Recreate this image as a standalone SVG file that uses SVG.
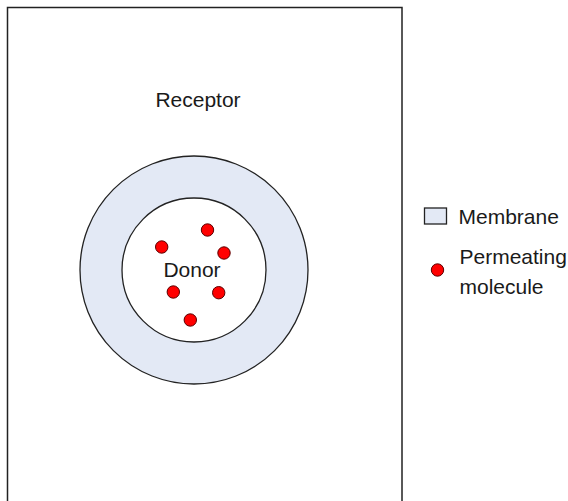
<svg xmlns="http://www.w3.org/2000/svg" width="568" height="501" viewBox="0 0 568 501">
<style>
text{font-family:"Liberation Sans",Arial,sans-serif;font-size:21px;fill:#1a1a1a}
.ring{fill:#e3e9f5;stroke:#222;stroke-width:1.3}
.inner{fill:#fff;stroke:#222;stroke-width:1.3}
.mol{fill:#f00;stroke:#5a0000;stroke-width:1}
</style>
<rect width="568" height="501" fill="#fff"/>
<g id="receptor">
<rect x="7.5" y="7.5" width="394.5" height="510" fill="#fff" stroke="#222" stroke-width="1.5"/>
<text x="198" y="107" text-anchor="middle">Receptor</text>
</g>
<g id="membrane">
<circle class="ring" cx="194" cy="270" r="114"/>
</g>
<g id="donor">
<circle class="inner" cx="194" cy="270" r="72"/>
<text x="192" y="277" text-anchor="middle">Donor</text>
</g>
<g id="molecules">
<circle class="mol" cx="207.5" cy="230" r="6.2"/>
<circle class="mol" cx="161.7" cy="247" r="6.2"/>
<circle class="mol" cx="224" cy="253" r="6.2"/>
<circle class="mol" cx="173.3" cy="292" r="6.2"/>
<circle class="mol" cx="218.7" cy="292.7" r="6.2"/>
<circle class="mol" cx="190.3" cy="320" r="6.2"/>
</g>
<g id="legend">
<rect class="ring" x="424.5" y="208" width="22" height="16" stroke-width="1.2"/>
<text x="458.5" y="224">Membrane</text>
<circle class="mol" cx="437.5" cy="270" r="6.2"/>
<text x="459.5" y="264">Permeating</text>
<text x="459.5" y="293.5">molecule</text>
</g>
</svg>
